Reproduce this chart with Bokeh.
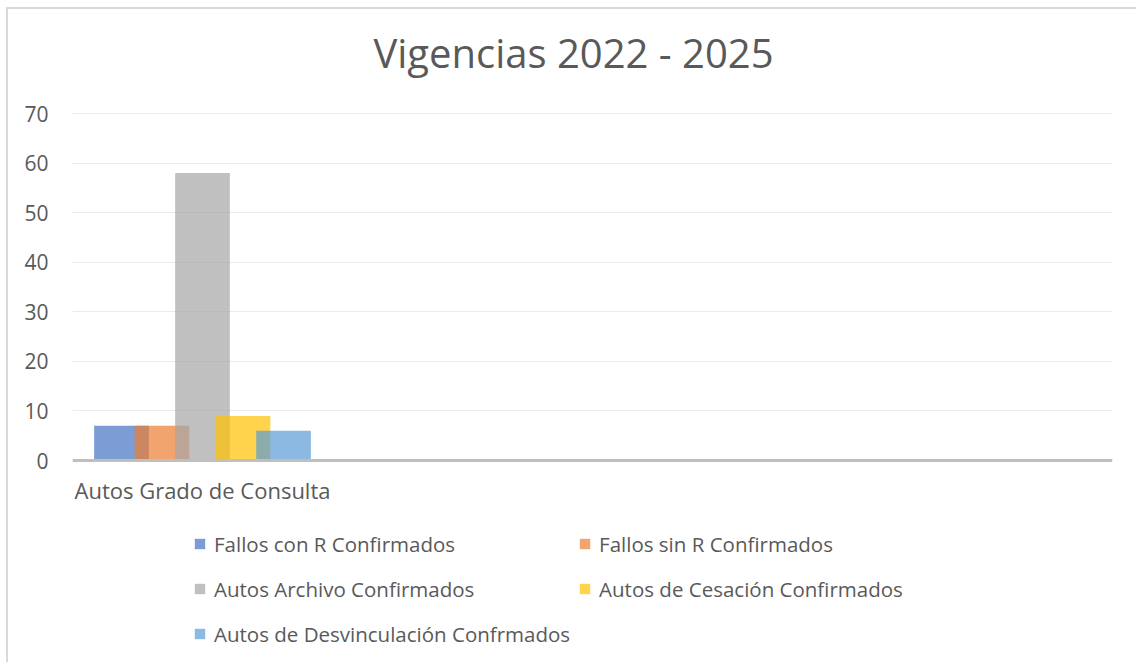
from bokeh.plotting import figure
from bokeh.models import (ColumnDataSource, FactorRange, Range1d, FixedTicker,
                          Legend, LegendItem, Label)
from bokeh.transform import dodge
from bokeh.embed import file_html
from bokeh.resources import INLINE

# ---- data ----
categories = ["Autos Grado de Consulta", " ", "  ", "   "]
series_names = ["Fallos con R Confirmados", "Fallos sin R Confirmados",
                "Autos Archivo Confirmados", "Autos de Cesación Confirmados",
                "Autos de Desvinculación Confrmados"]
fallos_con_r = [7, float("nan"), float("nan"), float("nan")]
fallos_sin_r = [7, float("nan"), float("nan"), float("nan")]
autos_archivo = [58, float("nan"), float("nan"), float("nan")]
autos_cesacion = [9, float("nan"), float("nan"), float("nan")]
autos_desvinculacion = [6, float("nan"), float("nan"), float("nan")]
y_ticks = [0, 10, 20, 30, 40, 50, 60, 70]
title_text = "Vigencias 2022 - 2025"

colors = ["#4472C4", "#ED7D31", "#A5A5A5", "#FFC000", "#5B9BD5"]
cols = ["s0", "s1", "s2", "s3", "s4"]
source = ColumnDataSource(dict(cat=categories, s0=fallos_con_r, s1=fallos_sin_r,
                               s2=autos_archivo, s3=autos_cesacion,
                               s4=autos_desvinculacion))

FONT = "Open Sans"
TXT = "#595959"

# ---- layout (pixels) ----
W, H = 1130, 655
BL, BR, BB = 64, 26, 4          # borders; frame reaches the canvas top
AXIS_TOP_PX, AXIS_ZERO_PX = 104, 451   # canvas px of value 70 and value 0
ymax = y_ticks[-1]
ppu = (AXIS_ZERO_PX - AXIS_TOP_PX) / ymax
y_end = ymax + AXIS_TOP_PX / ppu
y_start = -((H - BB) - AXIS_ZERO_PX) / ppu

p = figure(width=W, height=H, x_range=FactorRange(*categories),
           y_range=Range1d(y_start, y_end), output_backend="svg",
           toolbar_location=None, min_border_left=BL, min_border_right=BR,
           min_border_top=0, min_border_bottom=BB)
p.x_range.range_padding = 0
p.x_range.factor_padding = 0
p.outline_line_color = None
p.styles = {"margin-left": "6px", "margin-top": "7px",
            "border-left": "2px solid #D9D9D9", "border-top": "2px solid #D9D9D9"}

step = 0.1558
bw = 0.2104
renderers = []
for i, (c, col) in enumerate(zip(colors, cols)):
    r = p.vbar(x=dodge("cat", (i - 2) * step, range=p.x_range), top=col, bottom=0,
               width=bw, source=source, fill_color=c, fill_alpha=0.7,
               line_color=None)
    renderers.append(r)

# title (placed in the space above the 70 gridline)
frame_w = W - BL - BR
title_center_px = 501      # px from frame left
title_base_px = 43         # canvas px
p.add_layout(Label(x=title_center_px / (frame_w / len(categories)),
                   y=ymax + (AXIS_TOP_PX - title_base_px) / ppu,
                   text=title_text, text_align="center", text_baseline="alphabetic",
                   text_font=FONT, text_font_size="40px", text_color=TXT))

# axes
p.yaxis.ticker = FixedTicker(ticks=y_ticks)
p.yaxis.axis_line_color = None
p.yaxis.major_tick_line_color = None
p.yaxis.minor_tick_line_color = None
p.yaxis.major_tick_out = 0
p.yaxis.major_label_standoff = 24
p.yaxis.major_label_text_font = FONT
p.yaxis.major_label_text_font_size = "21px"
p.yaxis.major_label_text_color = TXT

p.xaxis.fixed_location = 0
p.xaxis.axis_line_color = "#BFBFBF"
p.xaxis.axis_line_width = 3
p.xaxis.major_tick_line_color = None
p.xaxis.minor_tick_line_color = None
p.xaxis.major_tick_out = 0
p.xaxis.major_label_standoff = 14
p.xaxis.major_label_text_font = FONT
p.xaxis.major_label_text_font_size = "22px"
p.xaxis.major_label_text_color = TXT

p.xgrid.grid_line_color = None
p.ygrid.grid_line_color = "#EBEBEB"
p.ygrid.grid_line_width = 1

items = [LegendItem(label=n, renderers=[r]) for n, r in zip(series_names, renderers)]
legend = Legend(items=items, location=(121, 8), orientation="horizontal", ncols=2,
                glyph_width=13, glyph_height=13, label_standoff=8, spacing=8,
                label_height=37, padding=0, margin=0, border_line_alpha=0,
                background_fill_alpha=0, label_text_font=FONT,
                label_text_font_size="20.5px", label_text_color=TXT)
p.add_layout(legend, "center")

open("out.html", "w").write(file_html(p, INLINE))
